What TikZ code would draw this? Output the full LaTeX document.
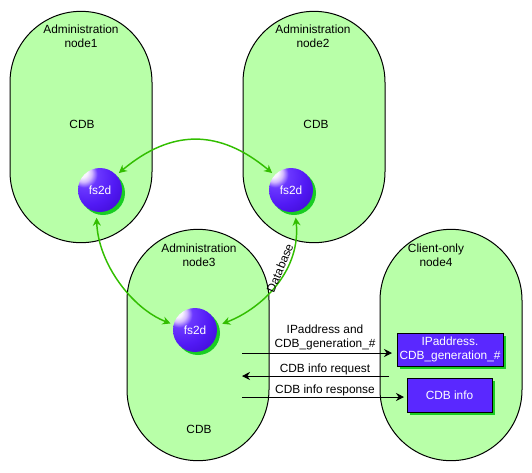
\documentclass[tikz,border=0pt]{standalone}
\usepackage{fontspec}
\setmainfont{Liberation Sans}
\usetikzlibrary{arrows.meta,shadows}
\definecolor{pillgreen}{RGB}{184,255,168}
\definecolor{arcgreen}{RGB}{50,190,0}
\definecolor{shadegreen}{RGB}{25,205,35}
\definecolor{fsblue}{RGB}{90,40,255}
\pgfdeclareradialshading{fsball}{\pgfpoint{-22bp}{22bp}}{%
  rgb(0bp)=(1,1,1);rgb(6bp)=(0.97,0.95,1);rgb(10bp)=(0.82,0.72,1);rgb(15bp)=(0.42,0.22,1);
  rgb(30bp)=(0.32,0.1,0.96);rgb(46bp)=(0.25,0.04,0.82);rgb(52bp)=(0.3,0.1,0.88);rgb(58bp)=(0.58,0.38,1);rgb(80bp)=(0.62,0.42,1)}
\tikzset{
  pill/.style={draw=black,line width=0.75pt,fill=pillgreen,rounded corners=53.2pt,
    minimum width=106.5pt,minimum height=173.5pt},
  lbl/.style={align=center},
  ball/.style={circle,minimum size=33pt,inner sep=0pt,outer sep=2.5pt,shading=fsball,text=white,
    general shadow={fill=shadegreen,shadow xshift=2.25pt,shadow yshift=-2.25pt}},
  infobox/.style={draw=black,line width=0.75pt,fill=fsblue,text=white,align=center,inner sep=0pt,
    general shadow={fill=shadegreen,shadow xshift=2.25pt,shadow yshift=-2.25pt}},
  arc/.style={draw=arcgreen,line width=1.1pt,{Stealth[length=6pt,width=6pt]}-{Stealth[length=6pt,width=6pt]}},
  msg/.style={draw=black,line width=0.75pt,-{Stealth[length=6pt,width=6pt]}}
}
\begin{document}
\begin{tikzpicture}[x={(0.75pt,0pt)},y={(0pt,-0.75pt)},
  every node/.style={outer sep=0pt,font=\fontsize{8.9pt}{10.5pt}\selectfont}]
\useasboundingbox (0,0) rectangle (532,472);
\node[pill] (node1) at (81,127) {};
\node[pill] (node2) at (314,127) {};
\node[pill] (node3) at (198,345) {};
\node[pill] (node4) at (451,345) {};
\node[lbl] (title1) at (81,36) {Administration\\node1};
\node[lbl] (title2) at (313,36) {Administration\\node2};
\node[lbl] (title3) at (199,255) {Administration\\node3};
\node[lbl] (title4) at (436,255) {Client-only\\node4};
\node (cdb1) at (82,124) {CDB};
\node (cdb2) at (316,124) {CDB};
\node (cdb3) at (199,429) {CDB};
\node[ball] (fs1) at (100,190) {fs2d};
\node[ball] (fs2) at (291,190) {fs2d};
\node[ball] (fs3) at (195,330) {fs2d};
\draw[arc] (fs1.42) to[out=40,in=140,looseness=1.15] (fs2.138);
\draw[arc,shorten <=2pt] (fs1.-98) to[out=-88,in=159,out looseness=0.95,in looseness=0.8] (fs3.165);
\draw[arc,shorten <=2pt,shorten >=2pt] (fs2.-80) to[out=-84,in=21,out looseness=1.05,in looseness=0.9] (fs3.12);
\node[rotate=67] (dbase) at (280,268) {Database};
\node[infobox,minimum width=79.5pt,minimum height=24.75pt] (box1) at (450,349.5) {IPaddress.\\CDB\_generation\_\#};
\node[infobox,minimum width=63.75pt,minimum height=25.5pt] (box2) at (449.5,395) {CDB info};
\coordinate (a1) at (242,353);
\coordinate (a2) at (242,376);
\coordinate (a3) at (242,397);
\coordinate (b2) at (389,376);
\draw[msg,shorten >=3.75pt] (a1) -- (box1.west |- a1);
\draw[msg] (b2) -- (a2);
\draw[msg,shorten >=2.25pt] (a3) -- (box2.west |- a3);
\node[lbl] (msg1) at (325,337) {IPaddress and\\CDB\_generation\_\#};
\node (msg2) at (325,369) {CDB info request};
\node (msg3) at (325,390) {CDB info response};
\end{tikzpicture}
\end{document}
